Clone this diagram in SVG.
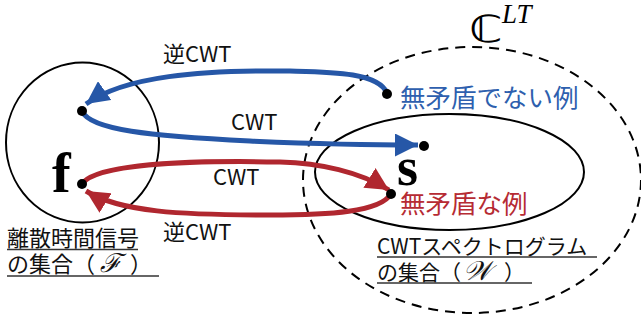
<svg xmlns="http://www.w3.org/2000/svg" width="641" height="322" viewBox="0 0 641 322">
<defs>
<style>
.set{fill:none;stroke:#000;stroke-width:2}
.dash{fill:none;stroke:#000;stroke-width:2;stroke-dasharray:10 7}
.blue{fill:none;stroke:#2657A7;stroke-width:5}
.red{fill:none;stroke:#B0272F;stroke-width:5}
.dot{fill:#000}
.jp{font-family:"Noto Sans CJK JP","Noto Sans",sans-serif;fill:#111}
.lbl{font-size:22px}
.ul{stroke:#333;stroke-width:1.5}
.big{font-family:"Liberation Serif",serif;font-weight:bold;fill:#000}
</style>
<marker id="ab" viewBox="0 0 10 10" refX="10" refY="5" markerWidth="4.6" markerHeight="4.6" markerUnits="strokeWidth" orient="auto"><path d="M0,0 L10,5 L0,10 z" fill="#2657A7"/></marker>
<marker id="ar" viewBox="0 0 10 10" refX="10" refY="5" markerWidth="4.6" markerHeight="4.6" markerUnits="strokeWidth" orient="auto"><path d="M0,0 L10,5 L0,10 z" fill="#B0272F"/></marker>
</defs>
<rect width="641" height="322" fill="#fff"/>

<g id="set-CLT">
<ellipse class="dash" cx="472" cy="180" rx="169" ry="133"/>
<text transform="translate(469,42) scale(1.3,1)" font-family="DejaVu Sans,sans-serif" font-size="37" fill="#000">ℂ</text>
<text x="502" y="23" font-family="Liberation Serif,serif" font-style="italic" font-size="27" fill="#000">LT</text>
</g>

<g id="set-F">
<ellipse class="set" cx="82.5" cy="142.5" rx="76.5" ry="80"/>
<text class="big" x="52" y="192" font-size="56">f</text>
<text class="jp lbl" x="7" y="246">離散時間信号</text>
<text class="jp lbl" y="272"><tspan x="7">の集合（</tspan><tspan x="100" font-family="DejaVu Serif,serif" font-style="italic" font-size="26">ℱ</tspan><tspan x="130">）</tspan></text>
<line class="ul" x1="7" y1="249.5" x2="138" y2="249.5"/>
<line class="ul" x1="7" y1="276" x2="159" y2="276"/>
</g>

<g id="set-W">
<ellipse class="set" cx="449.5" cy="172" rx="134.5" ry="58"/>
<text class="big" x="397" y="185" font-size="54">s</text>
<text class="jp" x="377" y="254" font-size="21">CWTスペクトログラム</text>
<text class="jp" y="280" font-size="21"><tspan x="377">の集合（</tspan><tspan x="463" font-family="DejaVu Serif,serif" font-style="italic" font-size="27">𝒲</tspan><tspan x="504">）</tspan></text>
<line class="ul" x1="377" y1="257" x2="597" y2="257"/>
<line class="ul" x1="377" y1="283" x2="532" y2="283"/>
</g>

<g id="connectors">
<path class="blue" d="M387,93 C378,72 330,72 290,71 C200,70 125,76 86,104" marker-end="url(#ab)"/>
<path class="blue" d="M82,111 C90,130 150,136 250,141 C320,144 370,145 418,145" marker-end="url(#ab)"/>
<path class="red" d="M82,184 C95,165 180,160 280,162 C320,163 360,172 389,190" marker-end="url(#ar)"/>
<path class="red" d="M391,194 C380,212 330,215 270,215 C180,215 120,212 86,191" marker-end="url(#ar)"/>
</g>

<g id="labels">
<text class="jp lbl" x="163" y="62">逆CWT</text>
<text class="jp lbl" x="231" y="130">CWT</text>
<text class="jp lbl" x="213" y="185">CWT</text>
<text class="jp lbl" x="163" y="240">逆CWT</text>
</g>

<g id="dots">
<circle class="dot" cx="82" cy="111" r="5"/>
<circle class="dot" cx="82" cy="184" r="5"/>
<circle class="dot" cx="387" cy="94" r="5"/>
<circle class="dot" cx="424" cy="146" r="5"/>
<circle class="dot" cx="391" cy="194" r="5"/>
</g>

<g id="examples">
<text class="jp" x="400" y="107" font-size="25.5" style="fill:#2E5FAE">無矛盾でない例</text>
<text class="jp" x="400" y="213" font-size="25.5" style="fill:#B62B33">無矛盾な例</text>
</g>
</svg>
